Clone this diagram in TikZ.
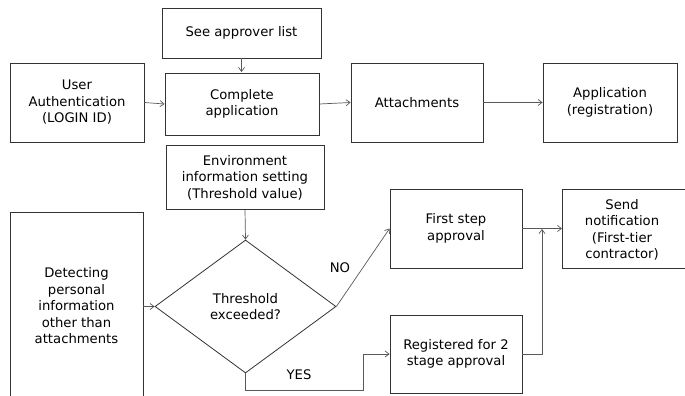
\documentclass[tikz,border=0pt]{standalone}
\usepackage{fontspec}
\setmainfont{DejaVu Sans}
\usetikzlibrary{arrows.meta,shapes.geometric}
\begin{document}
\begin{tikzpicture}[x=1pt,y=-1pt,
  box/.style={draw=black!80,line width=0.8pt,fill=white,align=center,inner sep=1pt,font=\fontsize{13.2}{16.5}\selectfont},
  conn/.style={draw=black!65,line width=0.7pt,-{Straight Barb[length=4pt,width=6pt]}},
  lbl/.style={font=\fontsize{13.2}{16.5}\selectfont}]
\useasboundingbox (0,0) rectangle (685,396);
\clip (0,0) rectangle (685,396);
\node[box,minimum width=159pt,minimum height=50pt] (see) at (241.5,33) {See approver list};
\node[box,minimum width=134pt,minimum height=79pt] (user) at (77,102.5) {User\\Authentication\\(LOGIN ID)};
\node[box,minimum width=154pt,minimum height=62pt] (comp) at (242,104) {Complete\\application};
\node[box,minimum width=132pt,minimum height=79pt] (att) at (417,102.5) {Attachments};
\node[box,minimum width=134pt,minimum height=79pt] (app) at (610,102.5) {Application\\(registration)};
\node[box,minimum width=158pt,minimum height=64pt] (env) at (245,177.5) {Environment\\information setting\\(Threshold value)};
\node[box,minimum width=133pt,minimum height=190pt] (det) at (76.5,307) {};
\node[lbl,align=center] at (76.5,306) {Detecting\\personal\\information\\other than\\attachments};
\node[box,diamond,minimum width=181pt,minimum height=133pt,inner sep=0pt] (dia) at (245.5,306.5) {Threshold\\exceeded?};
\node[box,minimum width=132pt,minimum height=79pt] (first) at (456,228.5) {First step\\approval};
\node[box,minimum width=132pt,minimum height=78pt] (reg) at (456,354) {Registered for 2\\stage approval};
\node[box,minimum width=128pt,minimum height=79pt,anchor=west] (send) at (562,228.5) {};
\node[lbl,align=center] at (622,230) {Send\\notification\\(First-tier\\contractor)};
\coordinate (yes1) at (245.5,390);
\coordinate (yes2) at (363,390);
\coordinate (yes3) at (363,354);
\coordinate (j1) at (542,354);
\coordinate (j2) at (542,229);
\draw[conn] (see.south -| 241.5,0) -- (241.5,72);
\draw[conn] (user.east) -- (comp.west);
\draw[conn] (comp.east) -- (att.west);
\draw[conn] (att.east) -- (app.west);
\draw[conn] (env.south) -- (dia.north);
\draw[conn] (det.east |- dia.west) -- (dia.west);
\draw[conn] (dia.east) -- (first.west);
\draw[conn] (dia.south) -- (yes1) -- (yes2) -- (yes3) -- (reg.west);
\draw[conn] (first.east) -- (send.west);
\draw[conn] (reg.east) -- (j1) -- (j2);
\node[lbl] at (340,268) {NO};
\node[lbl] at (299,375) {YES};
\end{tikzpicture}
\end{document}
